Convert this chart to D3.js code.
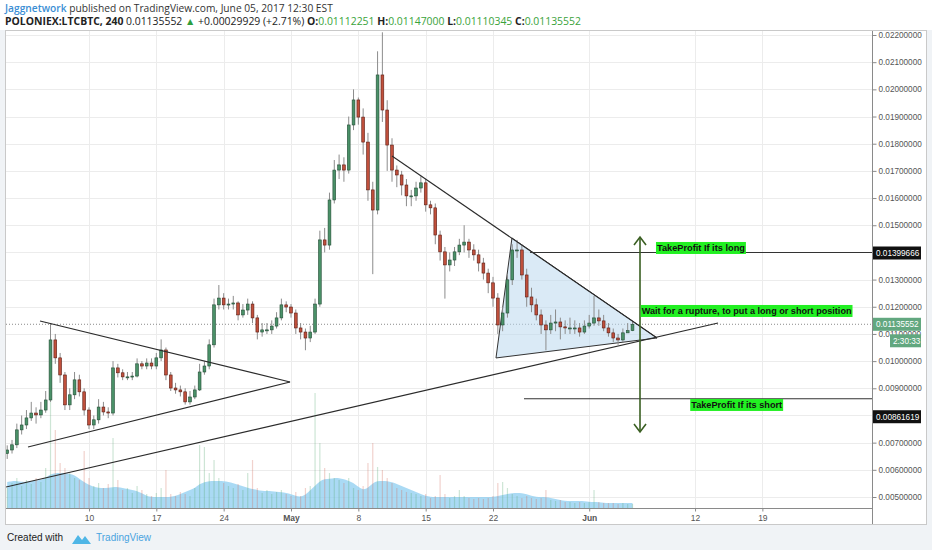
<!DOCTYPE html>
<html><head><meta charset="utf-8">
<script src="https://cdn.jsdelivr.net/npm/d3@7"></script>
<style>
body{margin:0;background:#fff;}
svg{display:block;font-family:"Liberation Sans",Arial,sans-serif;}
</style>
</head><body>
<svg id="c" width="932" height="550"></svg>
<script>
const firstCandle = Date.UTC(2017, 3, 1, 12);   // first candle time
const stepHours = 12;
const firstOpen = 0.0066;
const closes = [
0.00673,0.00692,0.00747,0.00765,0.00791,0.00809,0.00802,0.00820,0.00857,0.01078,
0.01012,0.00949,0.00839,0.00876,0.00931,0.00887,0.00820,0.00765,0.00784,0.00831,
0.00813,0.00809,0.00975,0.00957,0.00942,0.00942,0.00945,0.00990,0.00982,0.00993,
0.00982,0.01012,0.01041,0.00949,0.00901,0.00894,0.00887,0.00850,0.00868,0.00894,
0.00960,0.00982,0.01060,0.01207,0.01232,0.01207,0.01210,0.01214,0.01170,0.01188,
0.01210,0.01159,0.01107,0.01115,0.01115,0.01129,0.01159,0.01207,0.01199,0.01177,
0.01122,0.01107,0.01085,0.01107,0.01210,0.01446,0.01427,0.01593,0.01703,0.01722,
0.01703,0.01869,0.01961,0.01898,0.01806,0.01630,0.01556,0.02053,0.01924,0.01795,
0.01703,0.01685,0.01648,0.01608,0.01608,0.01637,0.01656,0.01575,0.01564,0.01464,
0.01402,0.01354,0.01372,0.01402,0.01427,0.01438,0.01409,0.01391,0.01361,0.01324,
0.01288,0.01232,0.01133,0.01177,0.01299,0.01409,0.01409,0.01317,0.01236,0.01207,
0.01170,0.01133,0.01115,0.01140,0.01144,0.01126,0.01122,0.01122,0.01122,0.01107,
0.01129,0.01140,0.01159,0.01148,0.01122,0.01104,0.01085,0.01078,0.01104,0.01112,
0.01135552];
const highs = [
0.0069,0.0071,0.0077,0.0080,0.0082,0.0085,0.0083,0.0085,0.0089,0.0114,
0.0110,0.0103,0.0096,0.0090,0.0096,0.0095,0.0090,0.0083,0.0080,0.0086,
0.0085,0.0083,0.0100,0.0099,0.0097,0.0096,0.0096,0.0101,0.0100,0.0101,
0.0101,0.0103,0.0108,0.0105,0.0096,0.0092,0.0091,0.0090,0.0089,0.0091,
0.0099,0.0100,0.0108,0.0123,0.0128,0.0125,0.0123,0.0124,0.0122,0.0121,
0.0123,0.0122,0.0117,0.0114,0.0114,0.0115,0.0118,0.0123,0.0122,0.0121,
0.0119,0.0114,0.0112,0.0113,0.0123,0.0148,0.0149,0.0162,0.0174,0.0176,
0.0175,0.0190,0.0200,0.0197,0.0193,0.0184,0.0166,0.0214,0.0221,0.0196,
0.0182,0.0172,0.0170,0.0167,0.0163,0.0166,0.0168,0.0167,0.0159,0.0158,
0.0148,0.0142,0.0140,0.0142,0.0145,0.0150,0.0145,0.0143,0.0141,0.0138,
0.0134,0.0131,0.0125,0.0120,0.0132,0.0143,0.01446,0.0143,0.0134,0.0127,
0.0123,0.0119,0.0115,0.0117,0.0119,0.0116,0.0115,0.0116,0.0115,0.0114,
0.0115,0.0117,0.0124,0.0119,0.0117,0.0114,0.0112,0.0110,0.0112,0.0114,
0.01147];
const lows = [
0.0064,0.0066,0.0068,0.0073,0.0075,0.0078,0.0077,0.0079,0.0081,0.0085,
0.0099,0.0092,0.0082,0.0082,0.0086,0.0087,0.0080,0.0075,0.0075,0.0077,
0.0080,0.0079,0.0080,0.0094,0.0093,0.0093,0.0093,0.0094,0.0097,0.0097,
0.0097,0.0097,0.0100,0.0093,0.0089,0.0088,0.0087,0.0084,0.0084,0.0086,
0.0089,0.0095,0.0097,0.0105,0.0119,0.0119,0.0119,0.0119,0.0115,0.0116,
0.0117,0.0114,0.0108,0.0109,0.0110,0.0110,0.0112,0.0115,0.0118,0.0116,
0.0110,0.0108,0.0104,0.0107,0.0110,0.0120,0.0140,0.0141,0.0158,0.0167,
0.0166,0.0169,0.0185,0.0187,0.0176,0.0159,0.0132,0.0154,0.0188,0.0170,
0.0166,0.0164,0.0161,0.0157,0.0157,0.0159,0.0162,0.0155,0.0154,0.0143,
0.0137,0.0123,0.0133,0.0135,0.0139,0.0140,0.0138,0.0137,0.0133,0.0130,
0.0125,0.0120,0.0110,0.0111,0.0116,0.0128,0.0138,0.0130,0.0120,0.0118,
0.0115,0.0110,0.0104,0.0110,0.0111,0.0108,0.0110,0.0110,0.0110,0.0109,
0.0110,0.0112,0.0113,0.0113,0.0111,0.0109,0.0107,0.0106,0.0107,0.01105,
0.01110345];
const volumes = [
20,25,30,22,28,24,30,26,40,110,78,45,40,35,30,28,57,30,22,25,
20,24,70,28,18,20,15,22,18,14,12,15,20,38,14,12,16,14,12,20,
63,61,35,48,30,25,22,20,24,18,35,48,20,15,18,14,16,18,14,12,
16,12,20,22,115,65,40,35,30,28,25,30,20,18,22,45,65,41,38,30,
25,20,18,16,15,14,12,14,10,12,33,14,10,12,18,12,10,9,10,9,
10,12,25,26,20,14,12,10,12,10,9,10,18,8,7,8,6,6,5,6,
5,6,18,6,5,5,5,4,5,4,4];
const volumeMA = [
26,27,27,26,26,27,27,28,30,34,35,35,35,34,33,29,26,23,21,20,
20,20,21,21,20,19,18,17,15,12,11,11,11,11,11,12,14,16,18,20,
24,26,27,27,27,27,26,25,23,22,20,19,18,17,17,17,16,16,15,14,
12,11,13,18,22,27,29,29,30,30,29,27,25,21,18,20,25,27,27,27,
26,24,22,20,18,16,14,12,11,11,11,11,11,11,11,11,11,11,11,11,
11,11,12,13,14,15,15,15,14,12,11,11,11,10,9,8,7,7,7,7,
7,6,6,6,5,5,5,5,5,5,5];
const priceTicks = d3.range(5, 23).map(k => k / 1000);
const timeTicks = [
  Date.UTC(2017,3,10), Date.UTC(2017,3,17), Date.UTC(2017,3,24), Date.UTC(2017,4,1),
  Date.UTC(2017,4,8), Date.UTC(2017,4,15), Date.UTC(2017,4,22), Date.UTC(2017,5,1),
  Date.UTC(2017,5,12), Date.UTC(2017,5,19)].map(t => new Date(t));
const monthNames = ["Jan","Feb","Mar","Apr","May","Jun","Jul","Aug","Sep","Oct","Nov","Dec"];
const lastPrice = 0.01135552;
const tpLong = 0.01399666, tpShort = 0.00861619;
// drawn annotations, as [days since 1 Apr 2017, price]
const leftTriUpper = [[3.91, 0.011478], [29.9, 0.009233]];
const leftTriLower = [[2.66, 0.006842], [29.9, 0.009233]];
const supportLine  = [[0.374, 0.005370], [74.39, 0.011404]];
const resistLine   = [[40.50, 0.017548], [68.05, 0.010852]];
const wedge        = [[51.31, 0.010116], [52.97, 0.014531], [68.05, 0.010852]];
const tpLongStart = 54.85, tpShortStart = 54.22;
const arrowDay = 66.28, arrowTop = 0.014568, arrowBottom = 0.007394;
const notes = [
  {text:"TakeProfit If its long", day:67.94, price:0.014163, width:88},
  {text:"Wait for a rupture, to put a long or short position", day:66.35, price:0.011845, width:210},
  {text:"TakeProfit If its short", day:71.5, price:0.008387, width:91}
];

// ---------- SCALES ----------
const base = Date.UTC(2017,3,1);
const dayToDate = d => new Date(base + d * 864e5);
const L = 6, R = 872, T = 31, B = 508;
const x = d3.scaleUtc().domain([dayToDate(0.374), dayToDate(90.396)]).range([L, R]);
const y = d3.scaleLinear().domain([0.005, 0.022]).range([497, 35]);
const vy = d3.scaleLinear().domain([0, 120]).range([B, B - 120]);

const candles = closes.map((c, i) => ({
  t: new Date(firstCandle + i * stepHours * 3600e3),
  o: i === 0 ? firstOpen : closes[i - 1], c, h: highs[i], l: lows[i],
  v: volumes[i], ma: volumeMA[i]
}));

const svg = d3.select("#c");
function fit(sel, target){ // scale font so the text spans the target width
  const fs = +sel.attr("font-size"); const w = sel.node().getComputedTextLength();
  sel.attr("font-size", fs * target / w);
}
// backgrounds
svg.append("rect").attr("width",932).attr("height",550).attr("fill","#f0f3f6");
svg.append("rect").attr("x",0).attr("y",0).attr("width",932).attr("height",30).attr("fill","#fff");
svg.append("rect").attr("x",5.5).attr("y",30.5).attr("width",921).attr("height",494).attr("fill","#fff").attr("stroke","#c9c9c9");

// header
const h1 = svg.append("text").attr("x",5).attr("y",12).attr("font-family","'Open Sans',sans-serif").attr("font-size",10).attr("fill","#333");
h1.append("tspan").attr("fill","#3a8ed4").attr("font-weight","600").text("Jaggnetwork");
h1.append("tspan").text(" published on TradingView.com, June 05, 2017 12:30 EST");
fit(h1, 328);
const h2 = svg.append("text").attr("x",5).attr("y",25).attr("font-family","'Open Sans',sans-serif").attr("font-size",10).attr("fill","#222");
h2.append("tspan").attr("font-weight","bold").text("POLONIEX:LTCBTC, 240");
h2.append("tspan").text(" 0.01135552 ");
h2.append("tspan").attr("fill","#2e9e3e").text("▲");
h2.append("tspan").text(" +0.00029929 (+2.71%) ");
[["O:","0.01112251"],["H:","0.01147000"],["L:","0.01110345"],["C:","0.01135552"]].forEach((p,k)=>{
  h2.append("tspan").attr("font-weight","bold").text((k? " ":"")+p[0]);
  h2.append("tspan").attr("fill","#3aa33a").text(p[1]);
});
fit(h2, 577);

// clip
svg.append("clipPath").attr("id","plot").append("rect").attr("x",L).attr("y",T).attr("width",R-L).attr("height",B-T);
const plot = svg.append("g").attr("clip-path","url(#plot)");

// grid
plot.selectAll(".hg").data(priceTicks).join("line").attr("x1",L).attr("x2",R)
  .attr("y1",d=>Math.round(y(d))+0.5).attr("y2",d=>Math.round(y(d))+0.5).attr("stroke","#ececec");
plot.selectAll(".vg").data(timeTicks).join("line").attr("y1",T).attr("y2",B)
  .attr("x1",d=>Math.round(x(d))+0.5).attr("x2",d=>Math.round(x(d))+0.5).attr("stroke","#ececec");

// volume
plot.append("path").datum(candles).attr("fill","#8ecdf0").attr("fill-opacity",0.75)
  .attr("d", d3.area().x(d=>x(d.t)).y0(B).y1(d=>vy(d.ma)).curve(d3.curveBasis));
plot.selectAll(".vb").data(candles).join("rect")
  .attr("x",d=>x(d.t)-0.6).attr("width",1.2)
  .attr("y",d=>vy(d.v)).attr("height",d=>B-vy(d.v))
  .attr("fill",d=>d.c>=d.o?"#5aa874":"#d06a5a").attr("opacity",0.3);

// last price dotted line
plot.append("line").attr("x1",L).attr("x2",R).attr("y1",y(lastPrice)).attr("y2",y(lastPrice))
  .attr("stroke","#8a8a8a").attr("stroke-dasharray","1,2");

// wedge fill
const pt = p => [x(dayToDate(p[0])), y(p[1])];
plot.append("path").attr("d", d3.line()(wedge.map(pt)) + "Z")
  .attr("fill","#bcd8ee").attr("fill-opacity",0.55).attr("stroke","#333").attr("stroke-width",1);

// candles
const cg = plot.append("g");
cg.selectAll(".w").data(candles).join("line")
  .attr("x1",d=>x(d.t)).attr("x2",d=>x(d.t)).attr("y1",d=>y(d.h)).attr("y2",d=>y(d.l))
  .attr("stroke","#8c8c8c").attr("stroke-width",1);
cg.selectAll(".b").data(candles).join("rect")
  .attr("x",d=>x(d.t)-1.4).attr("width",2.8)
  .attr("y",d=>y(Math.max(d.o,d.c))).attr("height",d=>Math.max(1,Math.abs(y(d.o)-y(d.c))))
  .attr("fill",d=>d.c>=d.o?"#4a9168":"#c0503c")
  .attr("stroke",d=>d.c>=d.o?"#244d36":"#5b1d14").attr("stroke-width",0.6);

// trend lines
[leftTriUpper, leftTriLower, supportLine, resistLine].forEach(seg=>{
  plot.append("path").attr("d", d3.line()(seg.map(pt))).attr("stroke","#2b2b2b").attr("stroke-width",1.1).attr("fill","none");
});
// take-profit horizontals
plot.append("line").attr("x1",x(dayToDate(tpLongStart))).attr("x2",R).attr("y1",y(tpLong)).attr("y2",y(tpLong)).attr("stroke","#333").attr("stroke-width",1.1);
plot.append("line").attr("x1",x(dayToDate(tpShortStart))).attr("x2",R).attr("y1",y(tpShort)).attr("y2",y(tpShort)).attr("stroke","#333").attr("stroke-width",1.1);

// arrow
const ax = x(dayToDate(arrowDay)), at = y(arrowTop), ab = y(arrowBottom);
const ag = plot.append("g").attr("stroke","#3a5f22").attr("stroke-width",1.6).attr("fill","none");
ag.append("line").attr("x1",ax).attr("x2",ax).attr("y1",at).attr("y2",ab);
ag.append("polyline").attr("points",`${ax-6},${at+8} ${ax},${at} ${ax+6},${at+8}`);
ag.append("polyline").attr("points",`${ax-6},${ab-8} ${ax},${ab} ${ax+6},${ab-8}`);

// notes
notes.forEach(n=>{
  const g = plot.append("g");
  const t = g.append("text").attr("x",x(dayToDate(n.day))+1).attr("y",y(n.price)+3.5)
    .attr("font-size",8).attr("font-weight","bold").attr("fill","#111").text(n.text);
  fit(t, n.width);
  const w = t.node().getComputedTextLength();
  g.insert("rect","text").attr("x",x(dayToDate(n.day))).attr("y",y(n.price)-6).attr("width",w+2).attr("height",12).attr("fill","#22f022");
});

// frame lines of the axes
svg.append("line").attr("x1",R+0.5).attr("x2",R+0.5).attr("y1",T).attr("y2",524).attr("stroke","#8a8a8a");
svg.append("line").attr("x1",L).attr("x2",R).attr("y1",B+0.5).attr("y2",B+0.5).attr("stroke","#8a8a8a");

// right axis (clipped to the frame)
svg.append("clipPath").attr("id","axclip").append("rect").attr("x",R).attr("y",T).attr("width",55).attr("height",494);
const hidden = [0.008, 0.014];  // tick labels covered by drawing labels
const yAxis = svg.append("g").attr("clip-path","url(#axclip)").append("g").attr("transform",`translate(${R+0.5},0)`)
  .call(d3.axisRight(y).tickValues(priceTicks).tickFormat(d => hidden.some(h=>Math.abs(h-d)<1e-9) ? "" : d3.format(".8f")(d)).tickSize(4).tickPadding(2));
yAxis.select(".domain").remove();
yAxis.selectAll("line").attr("stroke","#8a8a8a");
yAxis.selectAll("text").attr("font-size",8.2).attr("fill","#555").attr("font-family","'Liberation Sans',Arial,sans-serif");

// bottom axis
const xAxis = svg.append("g").attr("transform",`translate(0,${B+0.5})`)
  .call(d3.axisBottom(x).tickValues(timeTicks).tickSize(3).tickPadding(3)
    .tickFormat(d => d.getUTCDate()===1 ? monthNames[d.getUTCMonth()] : String(d.getUTCDate())));
xAxis.select(".domain").remove();
xAxis.selectAll("line").attr("stroke","#8a8a8a");
xAxis.selectAll("text").attr("font-size",8.5).attr("fill","#555").attr("font-family","'Liberation Sans',Arial,sans-serif")
  .attr("font-weight",d=>d.getUTCDate()===1?"bold":"normal");

// price labels on axis
function axisLabel(bg, fg, yy, xx, txt){
  const g = svg.append("g");
  g.append("rect").attr("x",xx).attr("y",yy-6.5).attr("width",921-xx).attr("height",13).attr("fill",bg);
  g.append("text").attr("x",xx+3).attr("y",yy+3).attr("font-size",8.2).attr("fill",fg).text(txt);
}
axisLabel("#111", "#fff", y(tpLong)+0.5, R+1, d3.format(".8f")(tpLong));
axisLabel("#111", "#fff", y(tpShort)+18, R+1, d3.format(".8f")(tpShort));
axisLabel("#62a77f", "#fff", y(lastPrice), R+1, d3.format(".8f")(lastPrice));
axisLabel("#62a77f", "#fff", y(lastPrice)+16.5, R+18, "2:30:33");

// footer
const f = svg.append("g");
f.append("text").attr("x",7).attr("y",541).attr("font-family","'Liberation Sans Narrow','Liberation Sans',sans-serif").attr("font-size",10).attr("fill","#222").text("Created with");
f.append("path").attr("d","M72,544 L78,535 L82,540 L85,536 L91,544 Z").attr("fill","#4fb6e6");
f.append("text").attr("x",96).attr("y",541).attr("font-family","'Liberation Sans Narrow','Liberation Sans',sans-serif").attr("font-size",10).attr("fill","#4aa3df").text("TradingView");
</script>
</body></html>
